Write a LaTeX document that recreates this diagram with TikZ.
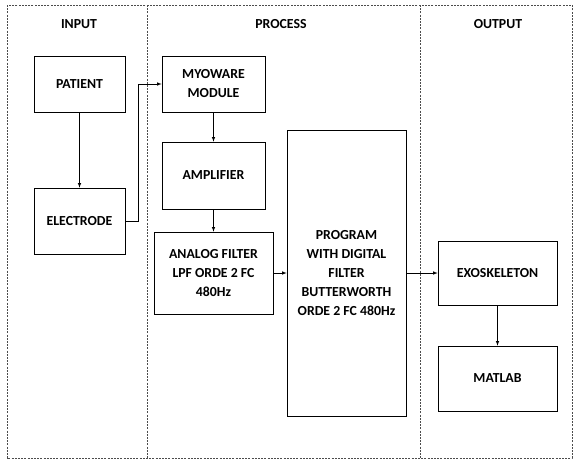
\documentclass[tikz,border=0pt]{standalone}
\usepackage{fontspec}
\setmainfont{Carlito}
\begin{document}
\begin{tikzpicture}[x=1pt, y=-1pt, >=latex, line width=0.6pt,
    font=\bfseries\fontsize{13.8}{19}\selectfont,
    blok/.style={draw, align=center, inner sep=2pt},
    sekat/.style={dashed, dash pattern=on 2pt off 1.2pt, gray!60!black}]
    \useasboundingbox (0,0) rectangle (573,459);

    % frame and columns
    \draw[sekat] (7,5) rectangle (572,458);
    \draw[sekat] (147,5) -- (147,458);
    \draw[sekat] (420,5) -- (420,458);

    \node (in) at (79,24) {INPUT};
    \node (pr) at (281,24) {PROCESS};
    \node (out) at (498,24) {OUTPUT};

    \node[blok, minimum width=91pt, minimum height=56pt] (1) at (79.5,84) {PATIENT};
    \node[blok, minimum width=91pt, minimum height=66pt] (2) at (79.5,221) {ELECTRODE};
    \node[blok, minimum width=103pt, minimum height=56pt] (3) at (213.5,84) {MYOWARE\\MODULE};
    \node[blok, minimum width=103pt, minimum height=67pt] (4) at (213.5,175.5) {AMPLIFIER};
    \node[blok, minimum width=119pt, minimum height=82pt] (5) at (213.5,273) {ANALOG FILTER\\LPF ORDE 2 FC\\480Hz};
    \node[blok, minimum width=119pt, minimum height=286pt] (6) at (346.5,273) {PROGRAM\\WITH DIGITAL\\FILTER\\BUTTERWORTH\\ORDE 2 FC 480Hz};
    \node[blok, minimum width=119pt, minimum height=64pt] (7) at (497.5,273) {EXOSKELETON};
    \node[blok, minimum width=119pt, minimum height=65pt] (8) at (497.5,378.5) {MATLAB};

    \draw[->] (1)--(2); \draw[->] (2.east) -- ++(13,0) |- (3.west);
    \draw[->] (3)--(4); \draw[->] (4)--(5); \draw[->] (5)--(6);
    \draw[->] (6)--(7); \draw[->] (7)--(8);
\end{tikzpicture}
\end{document}
